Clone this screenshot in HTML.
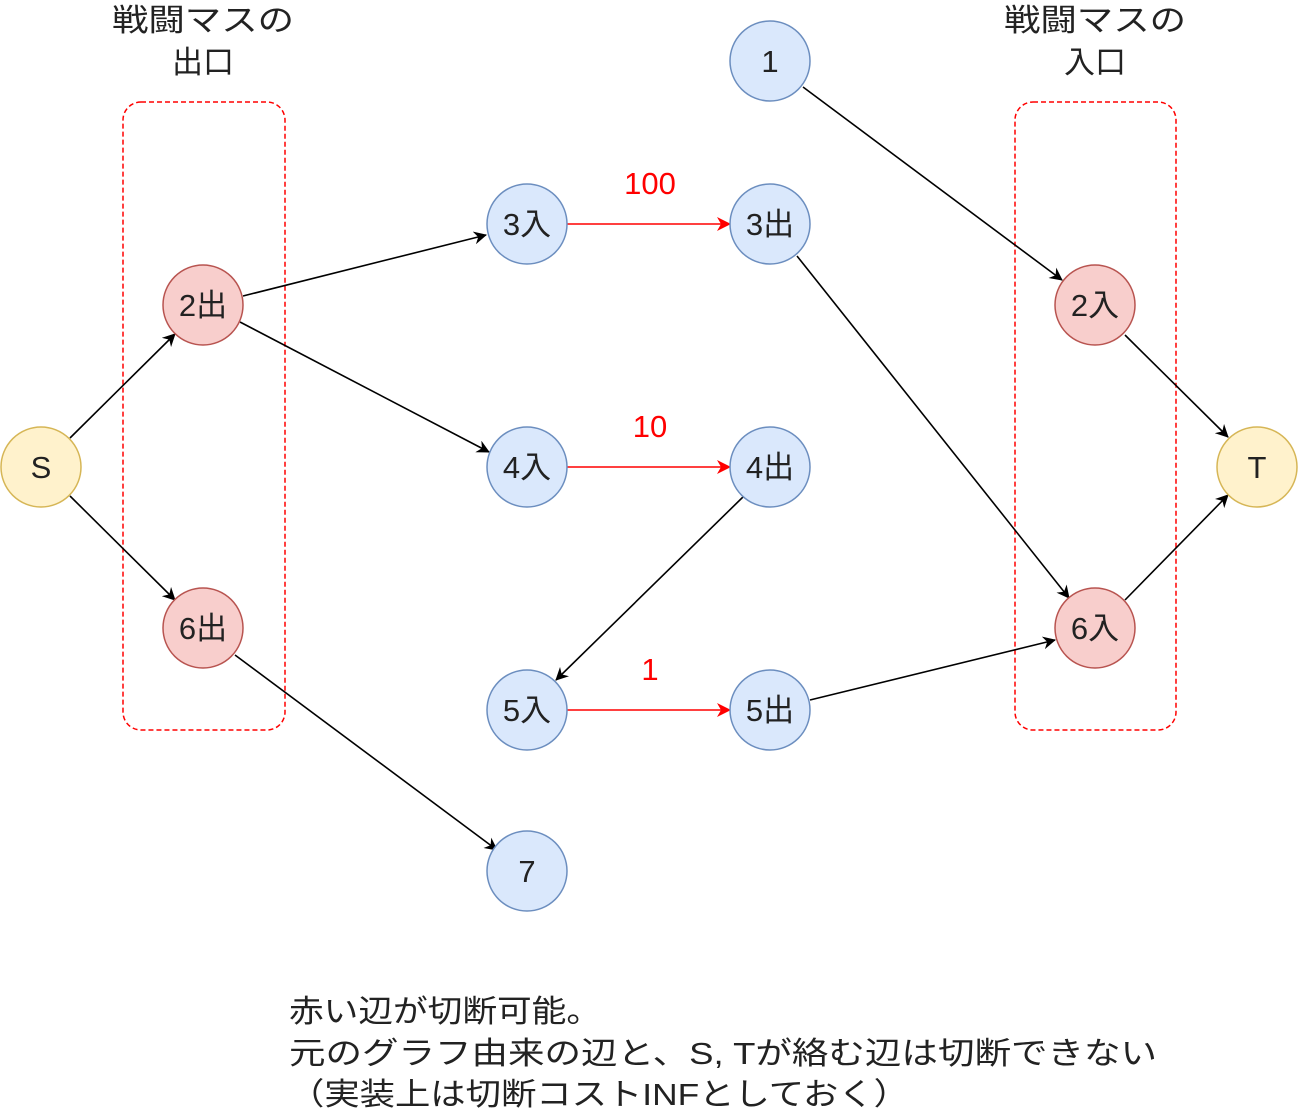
<!DOCTYPE html>
<html><head><meta charset="utf-8"><style>
html,body{margin:0;padding:0;background:#fff;}
svg{display:block;}
text{font-family:"Liberation Sans","Noto Sans CJK JP",sans-serif;}
</style></head><body>
<svg width="1299" height="1117" viewBox="0 0 1299 1117" xmlns="http://www.w3.org/2000/svg">
<defs>
<marker id="ab" markerWidth="13" markerHeight="13" refX="12" refY="6.5" orient="auto" markerUnits="userSpaceOnUse"><path d="M0,0 L13,6.5 L0,13 L4,6.5 z" fill="#000"/></marker>
<marker id="ar" markerWidth="14" markerHeight="14" refX="13" refY="7" orient="auto" markerUnits="userSpaceOnUse"><path d="M0,0 L14,7 L0,14 L4,7 z" fill="#f00"/></marker>
</defs>
<rect x="123" y="102" width="162" height="628" rx="18" fill="none" stroke="#f00" stroke-width="1.5" stroke-dasharray="5,3"/>
<rect x="1015" y="102" width="161" height="628" rx="18" fill="none" stroke="#f00" stroke-width="1.5" stroke-dasharray="5,3"/>
<g stroke="#000" stroke-width="1.6" marker-end="url(#ab)">
<line x1="70" y1="438" x2="175" y2="334"/>
<line x1="70" y1="496" x2="175" y2="600"/>
<line x1="243" y1="296" x2="486" y2="235"/>
<line x1="240" y1="322" x2="489" y2="452"/>
<line x1="745" y1="495" x2="556" y2="680"/>
<line x1="810" y1="700" x2="1055" y2="640"/>
<line x1="235" y1="655" x2="497" y2="850"/>
<line x1="803" y1="87" x2="1062" y2="280"/>
<line x1="797" y1="256" x2="1069" y2="598"/>
<line x1="1125" y1="335" x2="1228" y2="437"/>
<line x1="1125" y1="600" x2="1228" y2="495"/>
</g>
<g stroke="#f00" stroke-width="1.6" marker-end="url(#ar)">
<line x1="567" y1="224" x2="730" y2="224"/>
<line x1="567" y1="467" x2="730" y2="467"/>
<line x1="567" y1="710" x2="730" y2="710"/>
</g>
<g stroke-width="1.5">
<circle cx="41" cy="467" r="40" fill="#fff2cc" stroke="#d6b656"/>
<circle cx="1257" cy="467" r="40" fill="#fff2cc" stroke="#d6b656"/>
<circle cx="203" cy="305" r="40" fill="#f8cecc" stroke="#b85450"/>
<circle cx="203" cy="628" r="40" fill="#f8cecc" stroke="#b85450"/>
<circle cx="1095" cy="305" r="40" fill="#f8cecc" stroke="#b85450"/>
<circle cx="1095" cy="628" r="40" fill="#f8cecc" stroke="#b85450"/>
<circle cx="527" cy="224" r="40" fill="#dae8fc" stroke="#6c8ebf"/>
<circle cx="770" cy="224" r="40" fill="#dae8fc" stroke="#6c8ebf"/>
<circle cx="527" cy="467" r="40" fill="#dae8fc" stroke="#6c8ebf"/>
<circle cx="770" cy="467" r="40" fill="#dae8fc" stroke="#6c8ebf"/>
<circle cx="527" cy="710" r="40" fill="#dae8fc" stroke="#6c8ebf"/>
<circle cx="770" cy="710" r="40" fill="#dae8fc" stroke="#6c8ebf"/>
<circle cx="527" cy="871" r="40" fill="#dae8fc" stroke="#6c8ebf"/>
<circle cx="770" cy="61" r="40" fill="#dae8fc" stroke="#6c8ebf"/>
</g>
<g font-size="31" fill="#222" text-anchor="middle">
<text x="41" y="478">S</text>
<text x="1257" y="478">T</text>
<text x="203" y="316">2出</text>
<text x="203" y="639">6出</text>
<text x="1095" y="316">2入</text>
<text x="1095" y="639">6入</text>
<text x="527" y="235">3入</text>
<text x="770" y="235">3出</text>
<text x="527" y="478">4入</text>
<text x="770" y="478">4出</text>
<text x="527" y="721">5入</text>
<text x="770" y="721">5出</text>
<text x="527" y="882">7</text>
<text x="770" y="72">1</text>
</g>
<g font-size="31" fill="#f00" text-anchor="middle">
<text x="650" y="194">100</text>
<text x="650" y="437">10</text>
<text x="650" y="680">1</text>
</g>
<g font-size="31" fill="#222">
<text x="112" y="31" textLength="182" lengthAdjust="spacingAndGlyphs">戦闘マスの</text>
<text x="1004" y="31" textLength="182" lengthAdjust="spacingAndGlyphs">戦闘マスの</text>
</g>
<g font-size="31" fill="#222" text-anchor="middle">
<text x="203" y="73">出口</text>
<text x="1095" y="73">入口</text>
</g>
<g font-size="31" fill="#222">
<text x="289" y="1022" textLength="312" lengthAdjust="spacingAndGlyphs">赤い辺が切断可能。</text>
<text x="289" y="1064" textLength="868" lengthAdjust="spacingAndGlyphs">元のグラフ由来の辺と、S, Tが絡む辺は切断できない</text>
<text x="289" y="1105" textLength="620" lengthAdjust="spacingAndGlyphs">（実装上は切断コストINFとしておく）</text>
</g>
</svg>
</body></html>
